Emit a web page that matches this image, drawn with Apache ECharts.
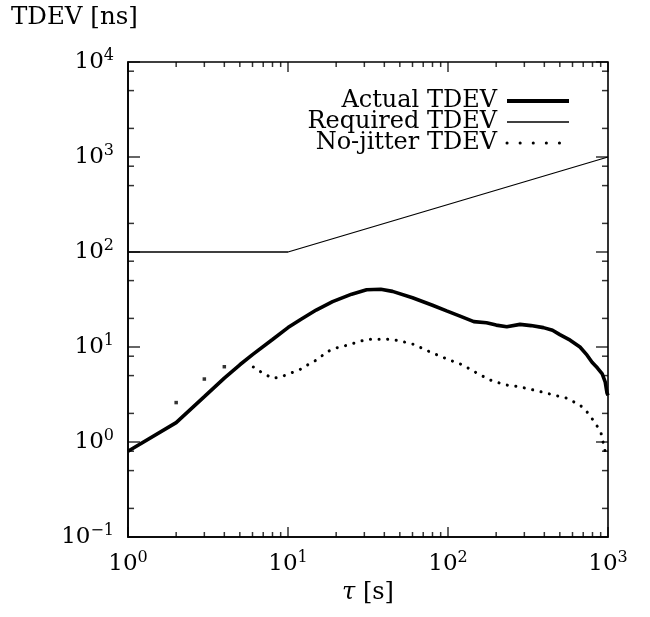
<!DOCTYPE html>
<html>
<head>
<meta charset="utf-8">
<script src="https://cdn.jsdelivr.net/npm/echarts@6/dist/echarts.min.js"></script>
<style>html,body{margin:0;padding:0;background:#fff}#c{width:650px;height:617px}</style>
</head>
<body>
<div id="c"></div>
<script>
// ---- data ----
var xMajorTicks = [1, 10, 100, 1000];
var xMinorTicks = [2,3,4,5,6,7,8,9,20,30,40,50,60,70,80,90,200,300,400,500,600,700,800,900];
var yMajorTicks = [0.1, 1, 10, 100, 1000, 10000];
var yMinorTicks = [0.2,0.5,0.8,2,5,8,20,50,80,200,500,800,2000,5000,8000];

var actualTau = [1, 2, 3, 4, 5, 6, 8, 10, 12, 15, 19, 25, 31, 38, 45, 60, 80, 98, 120, 145, 174, 200, 233, 282, 330, 395, 450, 500, 580, 668, 740, 795, 860, 920, 960, 985, 1000];
var actualVal = [0.8, 1.6, 3.0, 4.7, 6.5, 8.3, 12, 16, 19.5, 24.5, 30, 36, 40, 40.5, 38.5, 33, 27.5, 24, 21, 18.5, 18, 17, 16.3, 17.3, 16.8, 16, 15, 13.5, 11.8, 10, 8.2, 6.9, 6, 5.2, 4.3, 3.3, 3.1];

var requiredTau = [1, 10, 1000];
var requiredVal = [100, 100, 1000];

var noJitterTauEarly = [2, 3, 4];
var noJitterValEarly = [2.6, 4.6, 6.2];
var noJitterTau = [6.07, 7.08, 8.1, 9.1, 10.3, 11.9, 13.5, 15.3, 17.5, 19.7, 22.7, 25.6, 28.8, 32.5, 36.7, 41.4, 45.5, 50, 60.5, 77, 98, 123, 152, 183, 227, 282, 376, 466, 550, 668, 735, 830, 904, 980];
var noJitterVal = [6.16, 5.2, 4.68, 4.87, 5.28, 5.8, 6.6, 7.4, 8.9, 9.7, 10.3, 10.9, 11.6, 12.1, 12.1, 12.1, 11.9, 11.6, 10.7, 8.9, 7.5, 6.5, 5.3, 4.5, 4.0, 3.8, 3.4, 3.1, 2.9, 2.45, 2.1, 1.6, 1.25, 0.68];

var legendNames = ['Actual TDEV', 'Required TDEV', 'No-jitter TDEV'];

function zip(a, b) { return a.map(function (v, i) { return [v, b[i]]; }); }

var FONT = 'DejaVu Serif';
var X_MIN = xMajorTicks[0], X_MAX = xMajorTicks[xMajorTicks.length - 1];
var Y_MIN = yMajorTicks[0], Y_MAX = yMajorTicks[yMajorTicks.length - 1];

function powLabel(v) {
  var e = Math.round(Math.log10(v));
  var es = e < 0 ? '\u2212' + (-e) : String(e);
  return '{b|10}{s|' + es + '}';
}
var richLab = {
  b: { fontFamily: FONT, fontSize: 23, color: '#000' },
  s: { fontFamily: FONT, fontSize: 16, color: '#000', padding: [0, 0, 13, 0] }
};
var lineSty = { color: '#000', width: 1.6 };

// tick marks: thin rectangles placed through the axes' own scales
function tickSeries(values, side, len) {
  var horiz = (side === 'left' || side === 'right');
  var data = values.map(function (v) {
    if (side === 'bottom') return [v, Y_MIN];
    if (side === 'top') return [v, Y_MAX];
    if (side === 'left') return [X_MIN, v];
    return [X_MAX, v];
  });
  var off = side === 'bottom' ? [0, -len / 2] : side === 'top' ? [0, len / 2] :
            side === 'left' ? [len / 2, 0] : [-len / 2, 0];
  return {
    type: 'scatter', name: 'tick ' + side + ' ' + len, clip: false, z: 5, silent: true,
    symbol: 'rect', symbolSize: horiz ? [len, 1.5] : [1.5, len], symbolOffset: off,
    itemStyle: { color: '#000' }, data: data
  };
}

var chart = echarts.init(document.getElementById('c'), null, { renderer: 'canvas' });
chart.setOption({
  animation: false,
  backgroundColor: '#fff',
  grid: { left: 128, right: 42, top: 62, bottom: 80 },
  xAxis: [{
    type: 'log', logBase: 10, min: X_MIN, max: X_MAX, position: 'bottom',
    axisLine: { show: true, lineStyle: lineSty },
    axisTick: { show: false },
    axisLabel: { show: true, formatter: powLabel, rich: richLab, margin: 13 },
    splitLine: { show: false },
    name: '{i|\u03c4} [s]', nameLocation: 'middle', nameGap: 42,
    nameTextStyle: { fontFamily: FONT, fontSize: 24, color: '#000',
      rich: { i: { fontFamily: FONT, fontStyle: 'italic', fontSize: 24, color: '#000' } } }
  }],
  yAxis: [{
    type: 'log', logBase: 10, min: Y_MIN, max: Y_MAX, position: 'left',
    axisLine: { show: true, lineStyle: lineSty },
    axisTick: { show: false },
    axisLabel: { show: true, formatter: powLabel, rich: richLab, margin: 14 },
    splitLine: { show: false }
  }],
  legend: {
    data: [
      { name: legendNames[0], lineStyle: { width: 4, color: '#000' } },
      { name: legendNames[1], lineStyle: { width: 1.4, color: '#000' } },
      { name: legendNames[2], lineStyle: { width: 3, color: '#000', type: [0.1, 13], cap: 'round' } }
    ],
    orient: 'vertical', align: 'right', right: 74, top: 84,
    itemWidth: 62, itemHeight: 20, itemGap: -3,
    itemStyle: { opacity: 0 },
    textStyle: { fontFamily: FONT, fontSize: 24, color: '#000', lineHeight: 20, padding: [0, 5, 0, 0] }
  },
  graphic: [{
    type: 'text', left: 11, top: 5,
    style: { text: 'TDEV [ns]', fontFamily: FONT, fontSize: 24.5, fill: '#000' }
  }, {
    type: 'rect', shape: { x: 128, y: 62, width: 480, height: 475 },
    style: { fill: 'none', stroke: '#000', lineWidth: 1.6 }, z: 10, silent: true
  }],
  series: [
    { name: legendNames[0], type: 'line', symbol: 'none', data: zip(actualTau, actualVal),
      lineStyle: { color: '#000', width: 3.6 }, itemStyle: { color: '#000' } },
    { name: legendNames[1], type: 'line', symbol: 'none', data: zip(requiredTau, requiredVal),
      lineStyle: { color: '#000', width: 1.3 }, itemStyle: { color: '#000' } },
    { name: legendNames[2], type: 'line', symbol: 'none', data: zip(noJitterTau, noJitterVal),
      lineStyle: { color: '#000', width: 3, type: [0.1, 8.5], cap: 'round' }, itemStyle: { color: '#000' } },
    { name: 'No-jitter early', type: 'scatter', symbol: 'rect', symbolSize: 3.5, data: zip(noJitterTauEarly, noJitterValEarly),
      itemStyle: { color: '#000' } },
    tickSeries(xMajorTicks, 'bottom', 10), tickSeries(xMinorTicks, 'bottom', 5),
    tickSeries(xMajorTicks, 'top', 10), tickSeries(xMinorTicks, 'top', 5),
    tickSeries(yMajorTicks, 'left', 12), tickSeries(yMinorTicks, 'left', 6),
    tickSeries(yMajorTicks, 'right', 12), tickSeries(yMinorTicks, 'right', 6)
  ]
});
</script>
</body>
</html>
